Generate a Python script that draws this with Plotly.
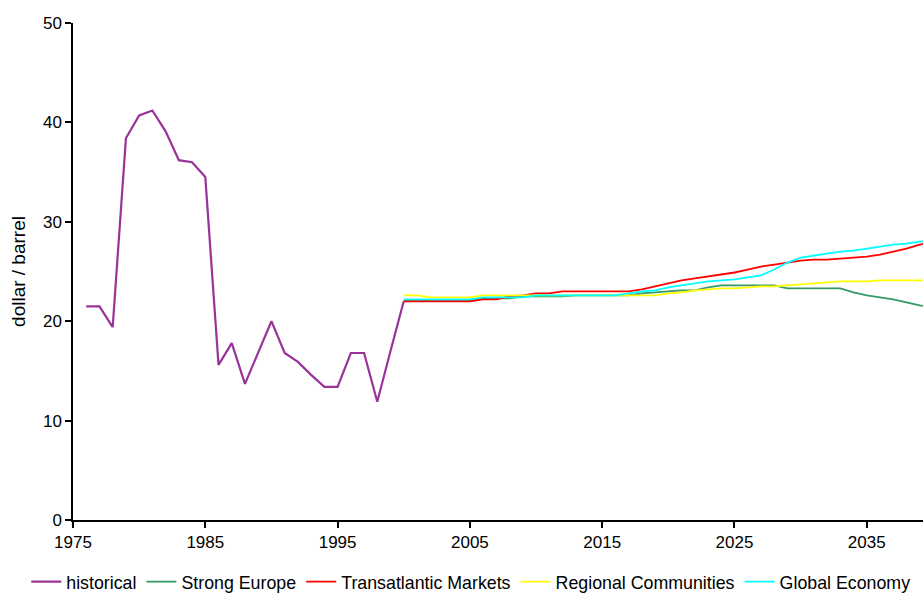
import plotly.graph_objects as go

# Historical crude oil price, dollar / barrel
hist_years = list(range(1976, 2001))
hist_price = [21.5, 21.5, 19.4, 38.4, 40.7, 41.2, 39.1, 36.2, 36.0, 34.5,
              15.6, 17.8, 13.7, 16.8, 20.0, 16.8, 15.9, 14.6, 13.4, 13.4,
              16.8, 16.8, 11.9, 17.0, 22.0]

# Scenario projections, annual 2000-2040
scen_years = list(range(2000, 2041))

strong_europe = [22.1, 22.1, 22.1, 22.1, 22.1, 22.1, 22.3, 22.3, 22.3, 22.5,
                 22.5, 22.5, 22.5, 22.6, 22.6, 22.6, 22.6, 22.6, 22.8, 22.9,
                 23.0, 23.1, 23.1, 23.4, 23.6, 23.6, 23.6, 23.6, 23.6, 23.3,
                 23.3, 23.3, 23.3, 23.3, 22.9, 22.6, 22.4, 22.2, 21.9, 21.6,
                 21.4]

transatlantic = [22.0, 22.0, 22.0, 22.0, 22.0, 22.0, 22.2, 22.2, 22.5, 22.6,
                 22.8, 22.8, 23.0, 23.0, 23.0, 23.0, 23.0, 23.0, 23.2, 23.5,
                 23.8, 24.1, 24.3, 24.5, 24.7, 24.9, 25.2, 25.5, 25.7, 25.9,
                 26.1, 26.2, 26.2, 26.3, 26.4, 26.5, 26.7, 27.0, 27.3, 27.7,
                 28.0]

regional = [22.6, 22.6, 22.4, 22.4, 22.4, 22.4, 22.6, 22.6, 22.6, 22.6,
            22.6, 22.6, 22.6, 22.6, 22.6, 22.6, 22.6, 22.6, 22.6, 22.6,
            22.8, 22.9, 23.1, 23.2, 23.3, 23.3, 23.4, 23.5, 23.5, 23.6,
            23.7, 23.8, 23.9, 24.0, 24.0, 24.0, 24.1, 24.1, 24.1, 24.1,
            24.1]

global_economy = [22.2, 22.2, 22.2, 22.2, 22.2, 22.2, 22.4, 22.4, 22.4, 22.4,
                  22.6, 22.6, 22.6, 22.6, 22.6, 22.6, 22.6, 22.8, 23.0, 23.1,
                  23.4, 23.6, 23.8, 24.0, 24.1, 24.2, 24.4, 24.6, 25.2, 25.9,
                  26.4, 26.6, 26.8, 27.0, 27.1, 27.3, 27.5, 27.7, 27.8, 28.0,
                  28.1]

x_ticks = [1975, 1985, 1995, 2005, 2015, 2025, 2035]
y_ticks = [0, 10, 20, 30, 40, 50]

FONT = "Liberation Sans, Arial, sans-serif"

fig = go.Figure()
fig.add_trace(go.Scatter(x=hist_years, y=hist_price, mode="lines",
                         name="historical",
                         line=dict(color="#993399", width=2.2)))

scenarios = [
    ("Strong Europe", strong_europe, "#339966"),
    ("Transatlantic Markets", transatlantic, "#FF0000"),
    ("Regional Communities", regional, "#FFFF00"),
    ("Global Economy", global_economy, "#00FFFF"),
]
for name, vals, color in scenarios:
    fig.add_trace(go.Scatter(x=scen_years, y=vals, mode="lines", name=name,
                             line=dict(color=color, width=1.8)))

fig.update_layout(
    width=923, height=593,
    margin=dict(l=73, r=0, t=23, b=73, autoexpand=False),
    paper_bgcolor="white", plot_bgcolor="white",
    font=dict(family=FONT, size=17, color="black"),
    showlegend=True,
    legend=dict(orientation="h", x=-0.055, xanchor="left",
                y=-0.125, yanchor="middle",
                font=dict(family=FONT, size=17.8, color="black"),
                itemwidth=30, tracegroupgap=0,
                bgcolor="rgba(0,0,0,0)"),
)

fig.update_xaxes(range=[1975, 2039.25], tickvals=x_ticks,
                 ticktext=[str(t) for t in x_ticks],
                 showgrid=False, zeroline=False,
                 showline=True, linecolor="black", linewidth=1.5,
                 ticks="outside", ticklen=6, tickwidth=1.5, tickcolor="black",
                 tickfont=dict(family=FONT, size=17, color="black"))
fig.update_yaxes(range=[0, 50], tickvals=y_ticks,
                 showgrid=False, zeroline=False,
                 showline=True, linecolor="black", linewidth=1.5,
                 ticks="outside", ticklen=6, tickwidth=1.5, tickcolor="black",
                 tickfont=dict(family=FONT, size=17, color="black"),
                 title=dict(text="dollar / barrel", standoff=12,
                            font=dict(family=FONT, size=19, color="black")))

fig.write_html("out.html")
